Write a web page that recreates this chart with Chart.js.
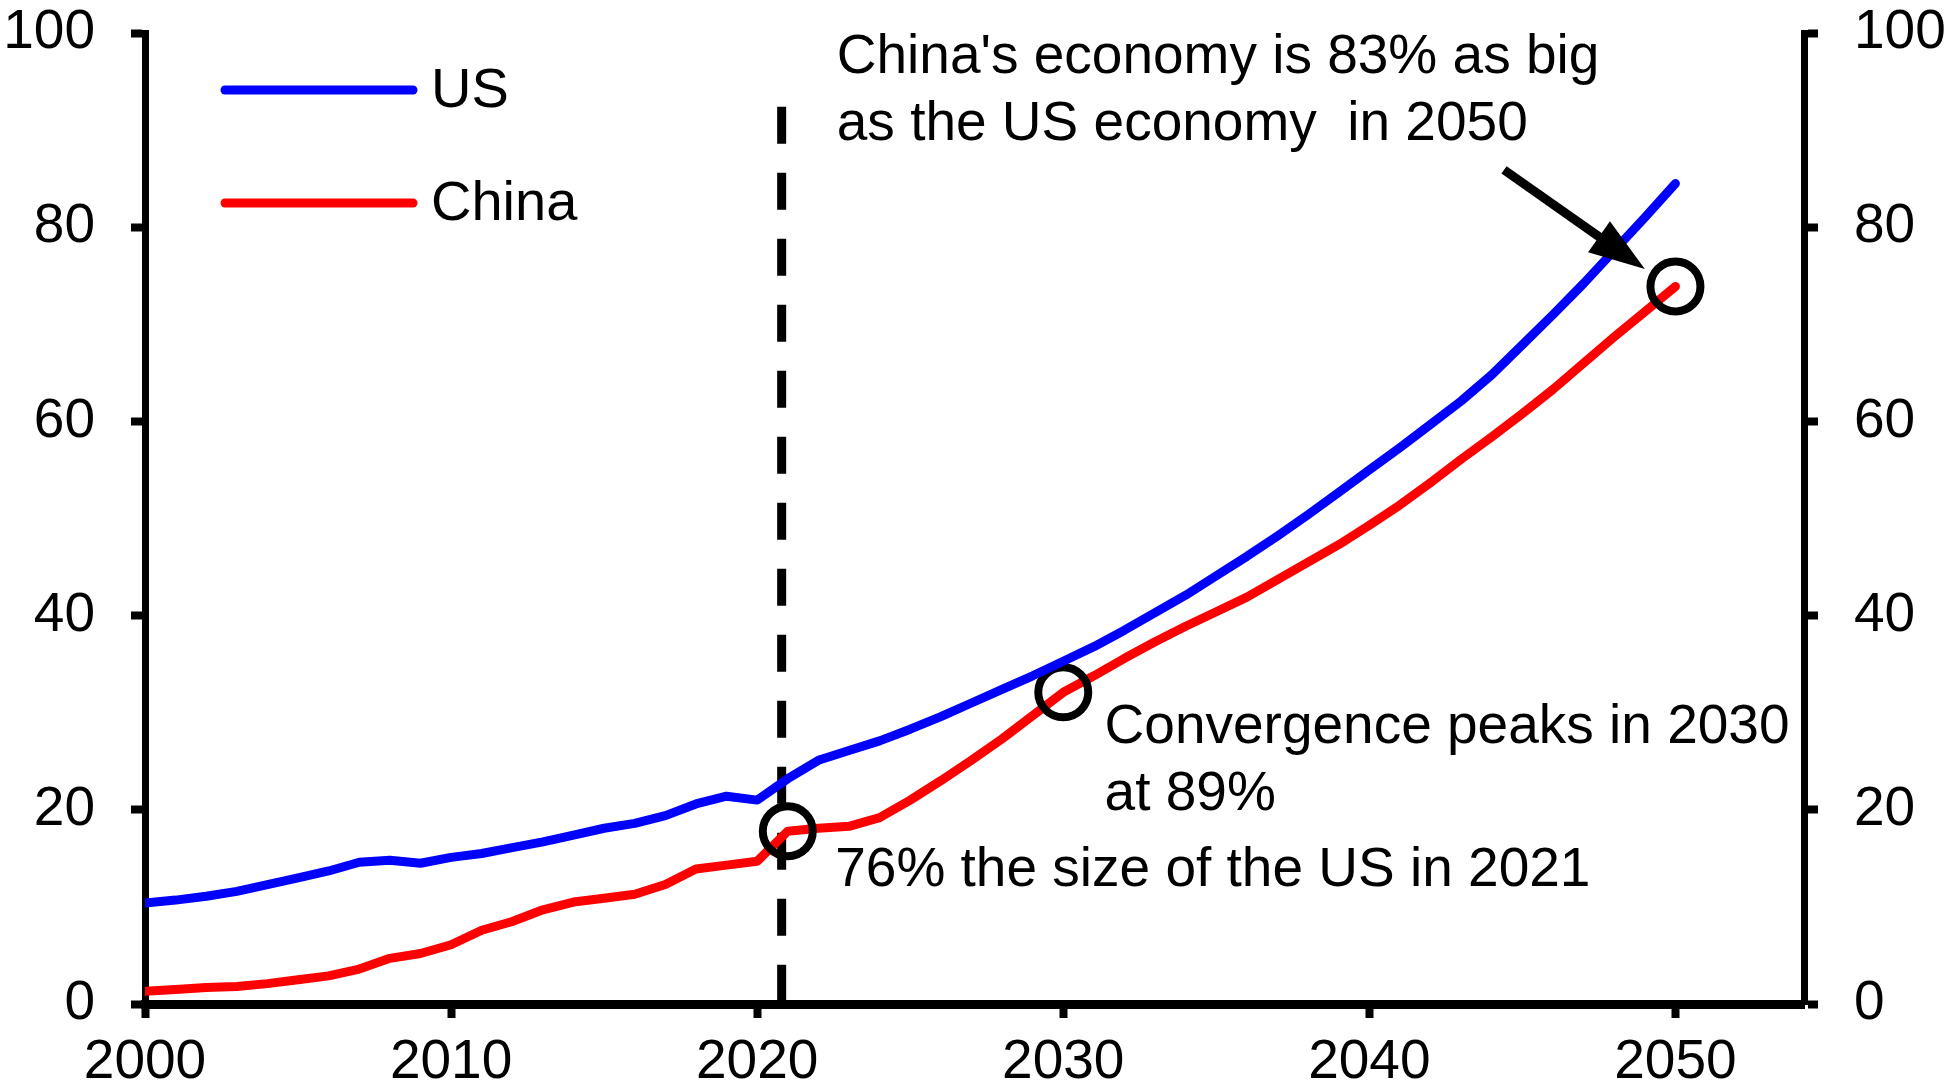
<!DOCTYPE html>
<html>
<head>
<meta charset="utf-8">
<script src="https://cdn.jsdelivr.net/npm/chart.js@4.4.1/dist/chart.umd.min.js"></script>
<style>
  html, body { margin: 0; padding: 0; background: #fff; }
  canvas { display: block; }
</style>
</head>
<body>
<canvas id="grafico" width="1944" height="1083"></canvas>
<script>
// Anos e PIB (dados anuais, 2000-2050)
const anos = [];
for (let a = 2000; a <= 2050; a++) anos.push(a);

const valoresUS = [
  10.4, 10.7, 11.1, 11.6, 12.3, 13.0, 13.7, 14.6, 14.8, 14.5,
  15.1, 15.5, 16.1, 16.7, 17.4, 18.1, 18.6, 19.4, 20.6, 21.4,
  21.0, 23.2, 25.1, 26.1, 27.1, 28.3, 29.6, 31.0, 32.4, 33.8,
  35.3, 36.8, 38.5, 40.3, 42.1, 44.1, 46.1, 48.2, 50.4, 52.7,
  55.0, 57.3, 59.7, 62.1, 64.8, 67.9, 71.0, 74.2, 77.6, 81.0,
  84.5
];

const valoresChina = [
  1.3, 1.5, 1.7, 1.8, 2.1, 2.5, 2.9, 3.6, 4.7, 5.2,
  6.1, 7.6, 8.5, 9.7, 10.5, 10.9, 11.3, 12.3, 13.9, 14.3,
  14.7, 17.8, 18.1, 18.3, 19.2, 21.0, 23.0, 25.1, 27.3, 29.7,
  32.1, 33.8, 35.6, 37.3, 38.9, 40.4, 41.9, 43.7, 45.5, 47.3,
  49.3, 51.4, 53.7, 56.1, 58.4, 60.8, 63.3, 66.0, 68.7, 71.3,
  73.9
];

// Anos marcados com círculo na série da China
const anosDestaque = [2021, 2030, 2050];

// Eixos
const ticksAnos = [2000, 2010, 2020, 2030, 2040, 2050];
const ticksValores = [0, 20, 40, 60, 80, 100];
const anoInicio = 2000;
const anoFim = 2054.2;
const anoDivisao = 2020.8;

// Textos das anotações
const notaTopo = ["China's economy is 83% as big", "as the US economy  in 2050"];
const notaPico = ["Convergence peaks in 2030", "at 89%"];
const nota2021 = ["76% the size of the US in 2021"];

const FONTE = "'Liberation Sans', Arial, sans-serif";
Chart.defaults.font.family = FONTE;
Chart.defaults.color = '#000';

const pontosUS = anos.map((a, i) => ({ x: a, y: valoresUS[i] }));
const pontosChina = anos.map((a, i) => ({ x: a, y: valoresChina[i] }));
const raiosChina = anos.map(a => anosDestaque.includes(a) ? 25 : 0);

// Linha tracejada vertical, legenda, seta e textos
const extras = {
  id: 'extras',
  beforeDatasetsDraw(chart) {
    const ctx = chart.ctx;
    const x = chart.scales.x.getPixelForValue(anoDivisao);
    const y = chart.scales.y;
    ctx.save();
    ctx.strokeStyle = '#000';
    ctx.lineWidth = 9;
    ctx.setLineDash([37, 29]);
    ctx.beginPath();
    ctx.moveTo(x, y.getPixelForValue(92.4));
    ctx.lineTo(x, y.getPixelForValue(0));
    ctx.stroke();
    ctx.restore();
  },
  afterDatasetsDraw(chart) {
    const ctx = chart.ctx;
    const sx = chart.scales.x, sy = chart.scales.y;
    const area = chart.chartArea;
    ctx.save();

    // legenda
    chart.data.datasets.forEach((ds, i) => {
      const ly = area.top + 57 + i * 113;
      ctx.strokeStyle = ds.borderColor;
      ctx.lineWidth = 9;
      ctx.lineCap = 'round';
      ctx.beginPath();
      ctx.moveTo(area.left + 80, ly);
      ctx.lineTo(area.left + 268, ly);
      ctx.stroke();
      ctx.fillStyle = '#000';
      ctx.font = '56px ' + FONTE;
      ctx.textBaseline = 'alphabetic';
      ctx.fillText(ds.label, area.left + 286, ly + 17);
    });

    // seta apontando para 2050
    const x0 = sx.getPixelForValue(2044.4), y0 = sy.getPixelForValue(85.9);
    const x1 = sx.getPixelForValue(2049.0), y1 = sy.getPixelForValue(75.7);
    const ang = Math.atan2(y1 - y0, x1 - x0);
    const comp = 56, meia = 19;
    const bx = x1 - comp * Math.cos(ang), by = y1 - comp * Math.sin(ang);
    ctx.strokeStyle = '#000';
    ctx.lineWidth = 9;
    ctx.lineCap = 'butt';
    ctx.beginPath();
    ctx.moveTo(x0, y0);
    ctx.lineTo(bx + 4 * Math.cos(ang), by + 4 * Math.sin(ang));
    ctx.stroke();
    ctx.fillStyle = '#000';
    ctx.beginPath();
    ctx.moveTo(x1, y1);
    ctx.lineTo(bx + meia * Math.sin(ang), by - meia * Math.cos(ang));
    ctx.lineTo(bx - meia * Math.sin(ang), by + meia * Math.cos(ang));
    ctx.closePath();
    ctx.fill();

    // textos
    ctx.font = '55px ' + FONTE;
    ctx.textBaseline = 'alphabetic';
    const escreve = (linhas, ano, valor) => {
      const tx = sx.getPixelForValue(ano), ty = sy.getPixelForValue(valor);
      linhas.forEach((l, k) => ctx.fillText(l, tx, ty + k * 67));
    };
    escreve(notaTopo, 2022.6, 95.9);
    escreve(notaPico, 2031.35, 26.9);
    escreve(nota2021, 2022.55, 12.2);
    ctx.restore();
  }
};

const eixoY = (posicao, largura) => ({
  type: 'linear',
  position: posicao,
  min: 0,
  max: 100,
  afterBuildTicks: s => { s.ticks = ticksValores.map(v => ({ value: v })); },
  afterFit: s => { s.width = largura; s.paddingTop = 0; s.paddingBottom = 0; },
  grid: { drawOnChartArea: false, drawTicks: true, tickLength: 14, tickWidth: 8, tickColor: '#000' },
  border: { display: true, color: '#000', width: 7 },
  ticks: { padding: 36, font: { size: 55 }, color: '#000' }
});

new Chart(document.getElementById('grafico'), {
  type: 'line',
  data: {
    datasets: [
      {
        label: 'US',
        data: pontosUS,
        borderColor: '#0000ff',
        borderWidth: 9,
        borderCapStyle: 'round',
        borderJoinStyle: 'round',
        pointRadius: 0,
        tension: 0
      },
      {
        label: 'China',
        data: pontosChina,
        borderColor: '#ff0000',
        borderWidth: 9,
        borderCapStyle: 'round',
        borderJoinStyle: 'round',
        pointRadius: raiosChina,
        pointStyle: 'circle',
        pointBackgroundColor: 'rgba(0,0,0,0)',
        pointBorderColor: '#000',
        pointBorderWidth: 8,
        tension: 0
      }
    ]
  },
  options: {
    responsive: false,
    devicePixelRatio: 1,
    animation: false,
    events: [],
    layout: { padding: { top: 29, left: 0, right: 0, bottom: 0 } },
    plugins: {
      legend: { display: false },
      tooltip: { enabled: false }
    },
    scales: {
      x: {
        type: 'linear',
        min: anoInicio,
        max: anoFim,
        afterBuildTicks: s => { s.ticks = ticksAnos.map(v => ({ value: v })); },
        afterFit: s => { s.height = 79; s.paddingLeft = 0; s.paddingRight = 0; },
        grid: { drawOnChartArea: false, drawTicks: true, tickLength: 14, tickWidth: 8, tickColor: '#000' },
        border: { display: true, color: '#000', width: 9 },
        ticks: { padding: 12, font: { size: 55 }, color: '#000', maxRotation: 0, callback: v => String(v) }
      },
      y: eixoY('left', 145),
      y1: eixoY('right', 140)
    }
  },
  plugins: [extras]
});
</script>
</body>
</html>
